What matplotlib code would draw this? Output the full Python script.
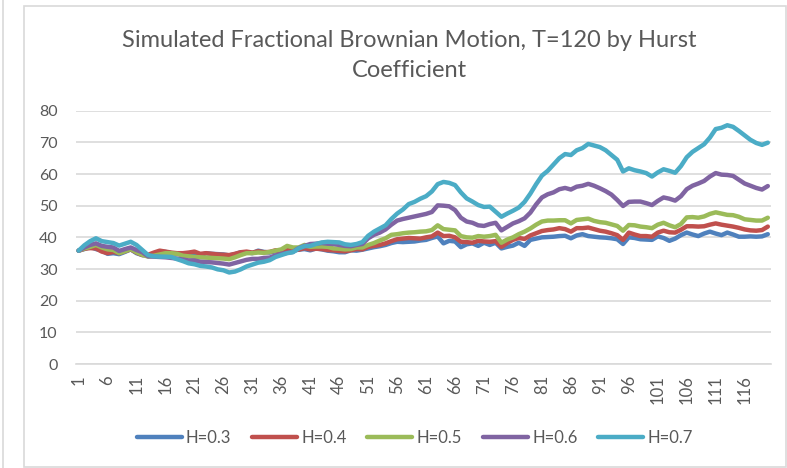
import numpy as np
import matplotlib.pyplot as plt
from matplotlib.patches import Rectangle
from matplotlib.lines import Line2D

plt.rcParams['font.family'] = ['Lato', 'DejaVu Sans']

series_names = ['H=0.3', 'H=0.4', 'H=0.5', 'H=0.6', 'H=0.7']
colors = ['#4F81BD', '#C0504D', '#9BBB59', '#8064A2', '#4BACC6']

h03 = [35.8, 36.3, 37.0, 36.3, 35.8, 34.8, 35.0, 34.7, 35.4, 36.2,
       35.0, 34.4, 34.2, 34.8, 35.5, 35.4, 35.0, 34.8, 34.9, 35.0,
       34.6, 34.3, 35.0, 34.8, 34.7, 34.6, 34.3, 34.7, 35.3, 35.3,
       35.0, 35.8, 35.4, 35.2, 35.6, 35.5, 36.0, 35.8, 36.1, 36.3,
       35.9, 36.5, 36.2, 35.8, 35.6, 35.3, 35.3, 35.9, 35.8, 36.1,
       36.5, 36.9, 37.2, 37.6, 38.2, 38.6, 38.5, 38.6, 38.7, 39.0,
       39.2, 39.8, 40.3, 38.1, 38.9, 38.7, 36.9, 37.8, 38.1, 37.3,
       38.3, 37.6, 38.3, 36.5, 37.0, 37.4, 38.3, 37.3, 39.2, 39.6,
       40.0, 40.1, 40.2, 40.4, 40.5, 39.7, 40.6, 41.0, 40.4, 40.2,
       40.0, 39.9, 39.7, 39.4, 37.9, 40.0, 39.8, 39.4, 39.3, 39.2,
       40.3, 39.8, 38.9, 39.6, 40.7, 41.5, 40.9, 40.4, 41.2, 41.8,
       41.2, 40.7, 41.5, 40.9, 40.2, 40.2, 40.3, 40.2, 40.3, 41.0]

h04 = [35.8, 36.4, 36.6, 36.5, 35.5, 35.0, 35.4, 35.0, 35.6, 36.2,
       35.2, 34.4, 34.5, 35.2, 35.8, 35.5, 35.2, 35.0, 35.0, 35.2,
       35.5, 34.8, 35.0, 34.8, 34.6, 34.5, 34.4, 34.8, 35.3, 35.5,
       35.2, 35.6, 35.3, 35.4, 35.9, 35.6, 36.2, 36.0, 36.1, 36.6,
       36.2, 36.4, 36.3, 36.0, 35.9, 35.7, 35.6, 35.9, 36.3, 36.2,
       37.0, 37.3, 37.6, 38.1, 38.8, 39.4, 39.6, 39.8, 39.7, 39.6,
       40.0, 40.3, 41.5, 40.4, 40.5, 40.0, 38.6, 38.5, 38.3, 38.9,
       38.7, 38.6, 38.8, 37.0, 38.2, 39.2, 39.8, 39.5, 40.6, 41.3,
       42.0, 42.3, 42.5, 42.9, 42.6, 41.8, 42.9, 42.9, 43.1, 42.6,
       42.1, 41.8, 41.3, 40.7, 39.2, 41.5, 40.9, 40.4, 40.4, 40.2,
       41.5, 42.1, 41.6, 41.5, 42.4, 43.5, 43.5, 43.4, 43.5, 44.0,
       44.4, 44.0, 43.7, 43.4, 43.0, 42.5, 42.2, 42.1, 42.3, 43.4]

h05 = [35.8, 36.5, 37.0, 37.6, 36.8, 36.2, 36.0, 35.0, 35.6, 36.3,
       35.3, 34.5, 33.9, 34.2, 34.6, 35.0, 35.0, 34.8, 34.2, 34.0,
       33.8, 33.7, 33.6, 33.5, 33.4, 33.3, 33.1, 33.7, 34.4, 35.0,
       35.0, 35.2, 35.1, 35.4, 35.8, 36.2, 37.3, 36.8, 36.8, 37.6,
       37.0, 37.1, 37.1, 37.0, 36.5, 36.4, 36.2, 36.3, 36.8, 36.8,
       37.6, 38.2, 39.0, 39.7, 40.8, 41.0, 41.3, 41.5, 41.6, 41.8,
       41.9, 42.3, 43.8, 42.6, 42.4, 42.2, 40.4, 40.0, 39.9, 40.4,
       40.2, 40.4, 40.8, 38.3, 39.3, 40.0, 41.0, 41.8, 42.8, 44.0,
       45.0, 45.3, 45.3, 45.4, 45.4, 44.4, 45.5, 45.7, 45.9, 45.2,
       44.8, 44.6, 44.1, 43.6, 42.1, 43.9, 43.8, 43.4, 43.2, 42.9,
       44.0, 44.6, 43.8, 43.2, 44.2, 46.3, 46.4, 46.2, 46.6, 47.4,
       47.9, 47.5, 47.1, 47.0, 46.5, 45.7, 45.5, 45.3, 45.3, 46.2]

h06 = [35.8, 36.8, 37.6, 38.1, 37.3, 37.0, 36.8, 35.7, 36.3, 36.8,
       36.0, 35.3, 34.0, 33.9, 33.8, 33.7, 33.5, 33.3, 33.0, 32.7,
       32.7, 32.3, 32.2, 32.1, 31.9, 31.7, 31.4, 31.9, 32.4, 32.9,
       33.2, 33.2, 33.5, 33.6, 34.3, 34.8, 35.1, 35.4, 36.6, 37.3,
       37.9, 38.0, 38.2, 38.0, 37.9, 37.6, 37.3, 37.2, 37.6, 37.9,
       39.7, 40.8, 41.5, 42.5, 44.0, 45.3, 45.8, 46.2, 46.6, 47.0,
       47.4, 48.0, 50.1, 50.0, 49.8, 48.6, 46.2, 45.0, 44.6, 43.8,
       43.6, 44.2, 44.6, 42.2, 43.3, 44.4, 45.1, 46.0, 47.8, 50.4,
       52.6, 53.6, 54.2, 55.2, 55.6, 55.1, 56.0, 56.3, 56.9, 56.3,
       55.5, 54.6, 53.5, 51.8, 49.9, 51.2, 51.3, 51.3, 50.8, 50.2,
       51.5, 52.6, 52.2, 51.6, 53.0, 55.2, 56.3, 57.0, 57.8, 59.2,
       60.3, 59.8, 59.7, 59.4, 58.2, 57.0, 56.3, 55.6, 55.1, 56.2]

h07 = [35.8, 37.5, 38.8, 39.7, 38.8, 38.5, 38.2, 37.4, 38.0, 38.6,
       37.6, 36.0, 34.4, 34.0, 33.9, 33.9, 33.8, 33.1, 32.5, 31.8,
       31.5, 31.0, 30.8, 30.5, 29.9, 29.6, 28.9, 29.2, 29.9, 30.8,
       31.4, 32.0, 32.3, 32.8, 33.8, 34.4, 35.0, 35.3, 36.5, 37.2,
       37.3, 37.9, 38.4, 38.6, 38.5, 38.4, 37.8, 37.6, 37.9, 38.5,
       40.5, 41.8, 42.8, 43.8, 45.8, 47.5, 48.8, 50.5, 51.2, 52.2,
       53.0, 54.5, 56.8, 57.5, 57.2, 56.5, 54.2, 52.3, 51.3, 50.2,
       49.6, 49.7, 48.1, 46.5, 47.5, 48.4, 49.4, 51.2, 53.8, 56.8,
       59.5, 61.0, 63.0, 65.0, 66.3, 66.0, 67.5, 68.2, 69.5, 69.0,
       68.5, 67.5, 66.0, 64.5, 60.8, 61.8, 61.2, 60.8, 60.3, 59.2,
       60.5, 61.5, 61.0, 60.4, 62.5, 65.3, 67.0, 68.2, 69.4, 71.5,
       74.2, 74.6, 75.4, 74.9, 73.6, 72.2, 70.8, 69.8, 69.2, 69.9]

steps = np.arange(1, 121)
tick_steps = list(range(1, 120, 5))

fig = plt.figure(figsize=(7.87, 4.68), dpi=100)
ax = fig.add_axes([0.0962, 0.2222, 0.8831, 0.5413])

text_col = '#595959'
grid_col = '#d9d9d9'

for vals, name, c in zip([h03, h04, h05, h06, h07], series_names, colors):
    ax.plot(steps, vals, color=c, lw=3.2, label=name,
            solid_joinstyle='round', solid_capstyle='round')

ax.set_xlim(0.5, 120.5)
ax.set_ylim(0, 80)
ax.set_yticks(range(0, 81, 10))
ax.set_xticks(tick_steps)
ax.set_xticklabels([str(t) for t in tick_steps], rotation=90)
ax.grid(axis='y', color=grid_col, lw=1.2)
ax.set_axisbelow(True)
for s in ['top', 'right', 'left']:
    ax.spines[s].set_visible(False)
ax.spines['bottom'].set_color(grid_col)
ax.spines['bottom'].set_linewidth(1.2)
ax.tick_params(axis='both', length=0, colors=text_col, labelsize=11.5)
ax.tick_params(axis='y', pad=13)
ax.tick_params(axis='x', pad=8, labelsize=12)

fig.text(0.52, 0.882, 'Simulated Fractional Brownian Motion, T=120 by Hurst\nCoefficient',
         ha='center', va='center', fontsize=17, color=text_col, linespacing=1.55)

handles = [Line2D([0], [0], color=c, lw=3.2, solid_capstyle='round') for c in colors]
fig.legend(handles, series_names, loc='center', bbox_to_anchor=(0.527, 0.065),
           ncol=5, frameon=False, fontsize=12, handlelength=2.7,
           columnspacing=1.25, handletextpad=0.25, labelcolor=text_col)

# chart border like the Excel chart area
fig.patches.append(Rectangle((24 / 787, 1.5 / 468), 762 / 787, 461 / 468,
                             transform=fig.transFigure, fill=False,
                             edgecolor=grid_col, lw=1.2))
fig.lines.append(Line2D([3 / 787, 3 / 787], [0, 1], transform=fig.transFigure,
                        color=grid_col, lw=1.2))

fig.savefig('out.png', dpi=100)
